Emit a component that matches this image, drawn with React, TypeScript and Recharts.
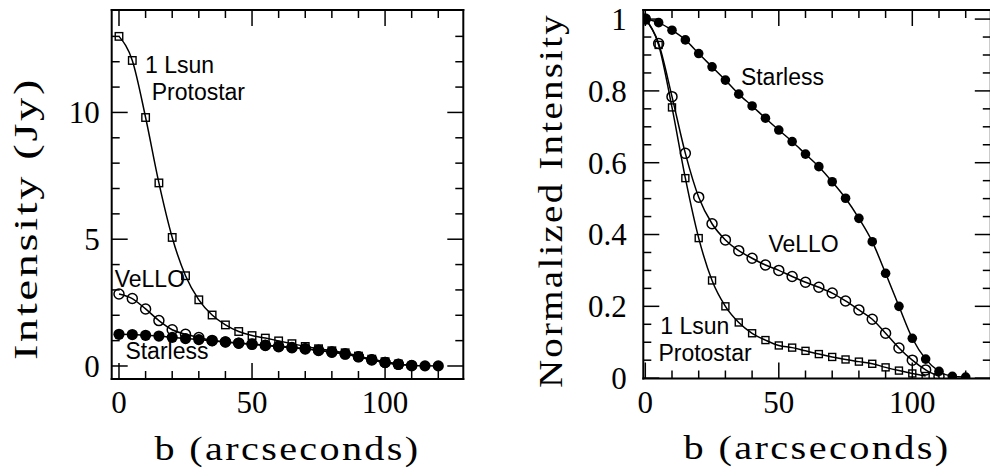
import React from 'react';
import { LineChart, Line, XAxis, YAxis, ReferenceDot } from 'recharts';

// ---------- data ----------
const bValues = [0, 5, 10, 15, 20, 25, 30, 35, 40, 45, 50, 55, 60, 65, 70, 75, 80, 85, 90, 95, 100, 105, 110, 115, 120];

// Left panel: intensity in Jy
const starlessJy = [1.25, 1.24, 1.21, 1.18, 1.13, 1.08, 1.04, 0.99, 0.95, 0.905, 0.865, 0.825, 0.78, 0.735, 0.685, 0.625, 0.555, 0.475, 0.365, 0.25, 0.14, 0.066, 0.024, 0.006, 0.004];
const velloJy = [2.84, 2.66, 2.25, 1.79, 1.43, 1.25, 1.12, 1.01, 0.95, 0.9, 0.855, 0.81, 0.76, 0.72, 0.675, 0.61, 0.54, 0.47, 0.36, 0.24, 0.14, 0.066, 0.014];
const protostarJy = [13.0, 12.05, 9.8, 7.22, 5.07, 3.56, 2.61, 2.01, 1.62, 1.36, 1.2, 1.1, 0.99, 0.88, 0.77, 0.68, 0.6, 0.52, 0.39, 0.27, 0.17, 0.08];

// Right panel: normalized intensity
const starlessNorm = [1.0, 0.99, 0.969, 0.942, 0.904, 0.867, 0.83, 0.791, 0.758, 0.724, 0.691, 0.659, 0.624, 0.589, 0.547, 0.501, 0.445, 0.38, 0.292, 0.2, 0.111, 0.053, 0.019, 0.005, 0.003];
const velloNorm = [1.0, 0.932, 0.784, 0.626, 0.504, 0.43, 0.385, 0.355, 0.334, 0.315, 0.3, 0.283, 0.267, 0.253, 0.237, 0.215, 0.19, 0.164, 0.125, 0.084, 0.05, 0.023, 0.005];
const protostarNorm = [1.0, 0.928, 0.754, 0.557, 0.39, 0.272, 0.2, 0.155, 0.125, 0.106, 0.091, 0.085, 0.076, 0.067, 0.059, 0.052, 0.046, 0.04, 0.03, 0.021, 0.013, 0.006];

// ticks
const xTicks = [0, 10, 20, 30, 40, 50, 60, 70, 80, 90, 100, 110, 120];
const xMajor = [0, 50, 100];
const leftYTicks = [0, 1, 2, 3, 4, 5, 6, 7, 8, 9, 10, 11, 12, 13];
const leftYMajor = [0, 5, 10];
const rightYTicks = [0, 0.05, 0.1, 0.15, 0.2, 0.25, 0.3, 0.35, 0.4, 0.45, 0.5, 0.55, 0.6, 0.65, 0.7, 0.75, 0.8, 0.85, 0.9, 0.95, 1.0];
const rightYMajor = [0, 0.2, 0.4, 0.6, 0.8, 1.0];
const rightYLabels = ['0', '0.2', '0.4', '0.6', '0.8', '1'];

// text annotations (data-coordinate anchors)
const leftNotes = [
  { text: '1 Lsun', b: 9.8, v: 11.55 },
  { text: 'Protostar', b: 12.3, v: 10.49 },
  { text: 'VeLLO', b: -1.6, v: 3.13 },
  { text: 'Starless', b: 2.4, v: 0.29 },
];
const rightNotes = [
  { text: 'Starless', b: 35.8, v: 0.816 },
  { text: 'VeLLO', b: 46.1, v: 0.351 },
  { text: '1 Lsun', b: 5.6, v: 0.122 },
  { text: 'Protostar', b: 4.9, v: 0.048 },
];

const buildRows = (s: number[], v: number[], p: number[]) =>
  bValues.map((b, i) => ({ b, starless: s[i], vello: v[i], proto: p[i] }));

const leftRows = buildRows(starlessJy, velloJy, protostarJy);
const rightRows = buildRows(starlessNorm, velloNorm, protostarNorm);

// ---------- styling helpers ----------
const SERIF = '"Liberation Serif", "Times New Roman", serif';
const SANS = '"Liberation Sans", Arial, Helvetica, sans-serif';
const TICK_FS = 31;
const TITLE_FS = 34;
const MAJ = 16;
const MIN = 8;
const TW = 1.5;

const isMajor = (v: number, majors: number[]) => majors.some((m) => Math.abs(m - v) < 1e-6);

const bottomTick = (majors: number[]) => (p: any) => {
  const v = p.payload.value;
  const maj = isMajor(v, majors);
  return (
    <g>
      <line x1={p.x} x2={p.x} y1={p.y} y2={p.y - (maj ? MAJ : MIN)} stroke="#000" strokeWidth={TW} />
      {maj && (
        <text x={p.x} y={p.y + 34} textAnchor="middle" fontFamily={SERIF} fontSize={TICK_FS} fill="#000">
          {String(v)}
        </text>
      )}
    </g>
  );
};

const topTick = (majors: number[]) => (p: any) => {
  const v = p.payload.value;
  const maj = isMajor(v, majors);
  return <line x1={p.x} x2={p.x} y1={p.y} y2={p.y + (maj ? MAJ : MIN)} stroke="#000" strokeWidth={TW} />;
};

const leftTick = (majors: number[], labels: string[] | null, gap: number) => (p: any) => {
  const v = p.payload.value;
  const idx = majors.findIndex((m) => Math.abs(m - v) < 1e-6);
  const maj = idx >= 0;
  return (
    <g>
      <line x1={p.x} x2={p.x + (maj ? MAJ : MIN)} y1={p.y} y2={p.y} stroke="#000" strokeWidth={TW} />
      {maj && (
        <text x={p.x - gap} y={p.y + 10.8} textAnchor="end" fontFamily={SERIF} fontSize={TICK_FS} fill="#000">
          {labels ? labels[idx] : String(v)}
        </text>
      )}
    </g>
  );
};

const rightTick = (majors: number[]) => (p: any) => {
  const v = p.payload.value;
  const maj = isMajor(v, majors);
  return <line x1={p.x} x2={p.x - (maj ? MAJ : MIN)} y1={p.y} y2={p.y} stroke="#000" strokeWidth={TW} />;
};

const squareDot = (size: number) => (p: any) => {
  if (p.cx == null || p.cy == null || p.value == null) return <g key={p.index} />;
  return (
    <rect key={p.index} x={p.cx - size / 2} y={p.cy - size / 2} width={size} height={size} fill="none" stroke="#000" strokeWidth={1.4} />
  );
};
const openCircle = (r: number) => (p: any) => {
  if (p.cx == null || p.cy == null || p.value == null) return <g key={p.index} />;
  return <circle key={p.index} cx={p.cx} cy={p.cy} r={r} fill="none" stroke="#000" strokeWidth={1.5} />;
};
const filledCircle = (r: number) => (p: any) => {
  if (p.cx == null || p.cy == null || p.value == null) return <g key={p.index} />;
  return <circle key={p.index} cx={p.cx} cy={p.cy} r={r} fill="#000" stroke="none" />;
};

const noteShape = (text: string) => (p: any) => (
  <text x={p.cx} y={p.cy} fontFamily={SANS} fontSize={23} fill="#000">
    {text}
  </text>
);

const axisLine = { stroke: '#000', strokeWidth: 2, strokeLinecap: 'square' as const };

const titleStyle = { letterSpacing: '2px' };

const xTitle = (yAbs: number, len: number) => (props: any) => {
  const vb = props.viewBox || {};
  return (
    <text
      x={vb.x + vb.width / 2}
      y={yAbs}
      textAnchor="middle"
      fontFamily={SERIF}
      fontSize={TITLE_FS}
      fill="#000"
      style={titleStyle}
      textLength={len}
      lengthAdjust="spacingAndGlyphs"
    >
      b (arcseconds)
    </text>
  );
};

const yTitle = (text: string, xAbs: number, cyAbs: number, len: number) => () => (
  <text
    x={xAbs}
    y={cyAbs}
    transform={`rotate(-90 ${xAbs} ${cyAbs})`}
    textAnchor="middle"
    fontFamily={SERIF}
    fontSize={TITLE_FS}
    fill="#000"
    style={titleStyle}
    textLength={len}
    lengthAdjust="spacingAndGlyphs"
  >
    {text}
  </text>
);

// axis box sizes (non-zero so the axes render)
const BOTTOM_H = 30;
const LEFT_W = 30;
const TOP_H = 4;
const RIGHT_W = 4;

// ---------- panels ----------
function LeftPanel() {
  return (
    <LineChart
      width={480}
      height={469}
      data={leftRows}
      margin={{ top: 10 - TOP_H, right: 16.7 - RIGHT_W, bottom: 90 - BOTTOM_H, left: 111.7 - LEFT_W }}
      style={{ position: 'absolute', left: 0, top: 0 }}
    >
      <XAxis
        dataKey="b"
        type="number"
        domain={[-2.74, 129.4]}
        ticks={xTicks}
        interval={0}
        height={BOTTOM_H}
        tickSize={0}
        tickMargin={0}
        tickLine={false}
        axisLine={axisLine}
        tick={bottomTick(xMajor)}
        allowDataOverflow
        label={{ content: xTitle(460, 266) }}
      />
      <XAxis
        xAxisId="top"
        orientation="top"
        dataKey="b"
        type="number"
        domain={[-2.74, 129.4]}
        ticks={xTicks}
        interval={0}
        height={TOP_H}
        tickSize={0}
        tickMargin={0}
        tickLine={false}
        axisLine={axisLine}
        tick={topTick(xMajor)}
        allowDataOverflow
      />
      <YAxis
        type="number"
        domain={[-0.513, 14.04]}
        ticks={leftYTicks}
        interval={0}
        width={LEFT_W}
        tickSize={0}
        tickMargin={0}
        tickLine={false}
        axisLine={axisLine}
        tick={leftTick(leftYMajor, null, 12)}
        allowDataOverflow
        label={{ content: yTitle('Intensity (Jy)', 37, 218.5, 283) }}
      />
      <YAxis
        yAxisId="right"
        orientation="right"
        type="number"
        domain={[-0.513, 14.04]}
        ticks={leftYTicks}
        interval={0}
        width={RIGHT_W}
        tickSize={0}
        tickMargin={0}
        tickLine={false}
        axisLine={axisLine}
        tick={rightTick(leftYMajor)}
        allowDataOverflow
      />
      <Line dataKey="starless" type="monotone" stroke="#000" strokeWidth={1.5} dot={filledCircle(5.6)} isAnimationActive={false} />
      <Line dataKey="vello" type="monotone" stroke="#000" strokeWidth={1.5} dot={openCircle(5)} isAnimationActive={false} />
      <Line dataKey="proto" type="monotone" stroke="#000" strokeWidth={1.5} dot={squareDot(7.5)} isAnimationActive={false} />
      {leftNotes.map((n) => (
        <ReferenceDot key={n.text} x={n.b} y={n.v} r={0} ifOverflow="visible" shape={noteShape(n.text)} />
      ))}
    </LineChart>
  );
}

function RightPanel() {
  return (
    <LineChart
      width={500}
      height={469}
      data={rightRows}
      margin={{ top: 10 - TOP_H, right: 9.2 - RIGHT_W, bottom: 90.5 - BOTTOM_H, left: 143.3 - LEFT_W }}
      style={{ position: 'absolute', left: 500, top: 0 }}
    >
      <XAxis
        dataKey="b"
        type="number"
        domain={[-0.75, 129.4]}
        ticks={xTicks}
        interval={0}
        height={BOTTOM_H}
        tickSize={0}
        tickMargin={0}
        tickLine={false}
        axisLine={axisLine}
        tick={bottomTick(xMajor)}
        allowDataOverflow
        label={{ content: xTitle(458.5, 267) }}
      />
      <XAxis
        xAxisId="top"
        orientation="top"
        dataKey="b"
        type="number"
        domain={[-0.75, 129.4]}
        ticks={xTicks}
        interval={0}
        height={TOP_H}
        tickSize={0}
        tickMargin={0}
        tickLine={false}
        axisLine={axisLine}
        tick={topTick(xMajor)}
        allowDataOverflow
      />
      <YAxis
        type="number"
        domain={[-0.001, 1.0253]}
        ticks={rightYTicks}
        interval={0}
        width={LEFT_W}
        tickSize={0}
        tickMargin={0}
        tickLine={false}
        axisLine={axisLine}
        tick={leftTick(rightYMajor, rightYLabels, 16.5)}
        allowDataOverflow
        label={{ content: yTitle('Normalized Intensity', 61.5, 200.5, 375) }}
      />
      <YAxis
        yAxisId="right"
        orientation="right"
        type="number"
        domain={[-0.001, 1.0253]}
        ticks={rightYTicks}
        interval={0}
        width={RIGHT_W}
        tickSize={0}
        tickMargin={0}
        tickLine={false}
        axisLine={axisLine}
        tick={rightTick(rightYMajor)}
        allowDataOverflow
      />
      <Line dataKey="starless" type="monotone" stroke="#000" strokeWidth={1.5} dot={filledCircle(4.8)} isAnimationActive={false} />
      <Line dataKey="vello" type="monotone" stroke="#000" strokeWidth={1.5} dot={openCircle(5)} isAnimationActive={false} />
      <Line dataKey="proto" type="monotone" stroke="#000" strokeWidth={1.5} dot={squareDot(7)} isAnimationActive={false} />
      {rightNotes.map((n) => (
        <ReferenceDot key={n.text} x={n.b} y={n.v} r={0} ifOverflow="visible" shape={noteShape(n.text)} />
      ))}
    </LineChart>
  );
}

export default function App() {
  return (
    <div style={{ position: 'absolute', left: 0, top: 0, width: 990, height: 469, overflow: 'hidden', background: '#fff' }}>
      <LeftPanel />
      <RightPanel />
    </div>
  );
}
